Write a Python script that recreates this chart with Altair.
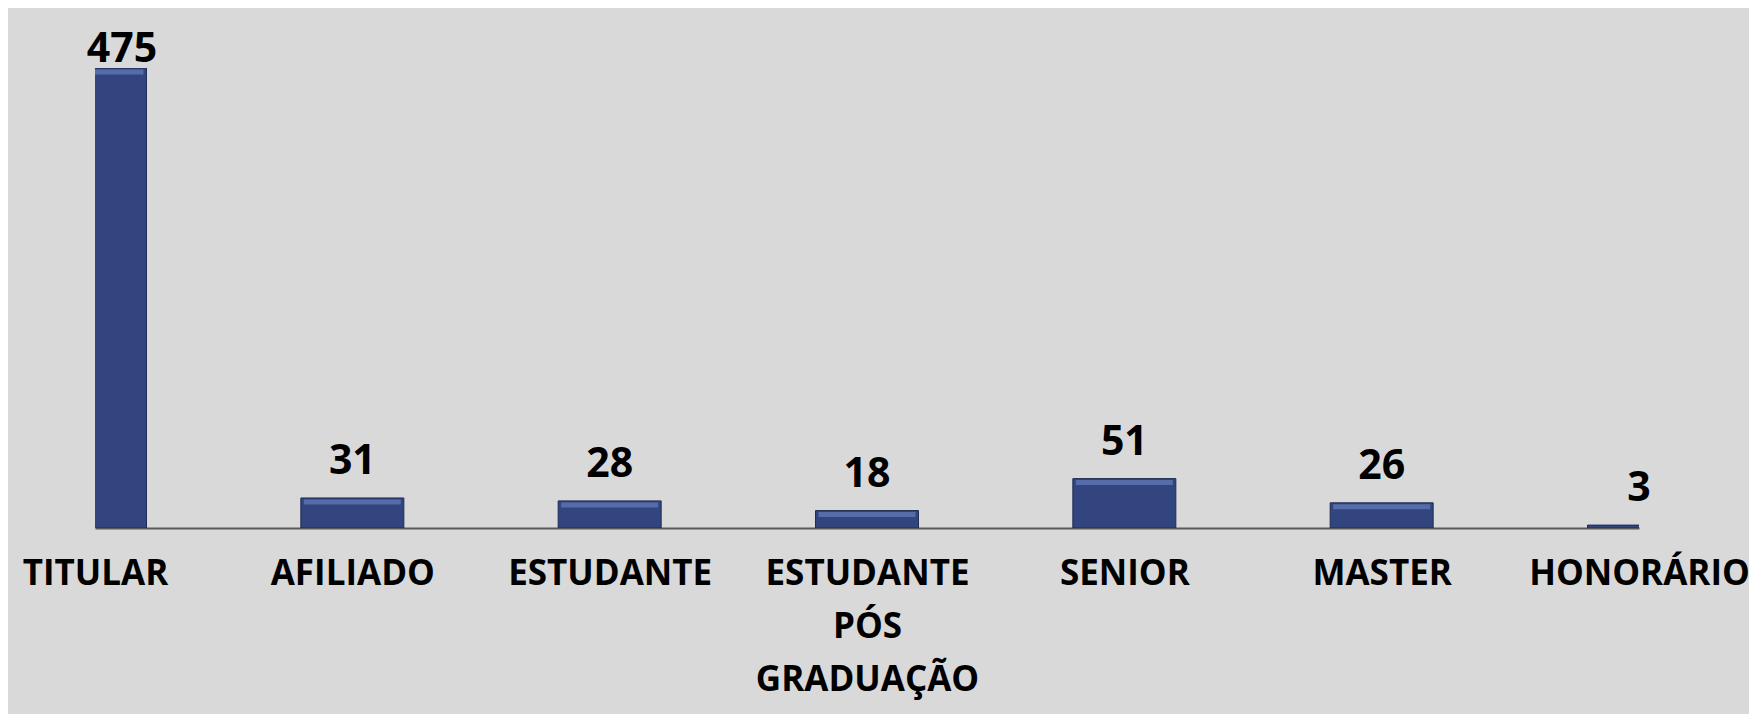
import altair as alt
import pandas as pd

categories = ["TITULAR", "AFILIADO", "ESTUDANTE", "ESTUDANTE PÓS GRADUAÇÃO",
              "SENIOR", "MASTER", "HONORÁRIO"]
values = [475, 31, 28, 18, 51, 26, 3]

df = pd.DataFrame({"categoria": categories, "total": values})

x = alt.X(
    "categoria:N",
    sort=categories,
    scale=alt.Scale(type="point", padding=0),
    axis=alt.Axis(
        title=None, labelAngle=0, ticks=False, grid=False,
        labelExpr="split(datum.label, ' ')",
        labelFont="Open Sans", labelFontWeight="bold", labelFontSize=35,
        labelColor="black", labelLineHeight=53, labelPadding=28,
        labelLimit=600,
        labelFlush=False, labelOverlap=False, labelBound=False,
        domainColor="#595959", domainWidth=2,
    ),
)
y = alt.Y("total:Q", scale=alt.Scale(domain=[0, 475], nice=False, zero=True), axis=None)

base = alt.Chart(df)

bars = base.mark_bar(size=103, color="#32457f", stroke="#1e2c55", strokeWidth=1, clip=True).encode(x=x, y=y)

bevel = base.transform_filter("datum.total >= 10").mark_tick(
    size=97, thickness=5, color="#6278b8", opacity=0.75, yOffset=4, clip=True
).encode(x=x, y=y)

text_big = base.transform_filter("datum.total > 400").mark_text(
    font="Open Sans", fontWeight="bold", fontSize=41, color="black",
    baseline="alphabetic", dx=27, dy=-6
).encode(x=x, y=y, text="total:Q")

text_small = base.transform_filter("datum.total <= 400").mark_text(
    font="Open Sans", fontWeight="bold", fontSize=41, color="black",
    baseline="alphabetic", dy=-24
).encode(x=x, y=y, text="total:Q")

chart = alt.layer(bars, bevel, text_big, text_small).properties(
    width=1544, height=460,
    padding={"left": 87, "top": 60, "right": 110, "bottom": 186},
    autosize="none",
    background="#d9d9d9",
).configure_view(stroke=None)

chart.save("out.html", embed_options={"renderer": "svg", "actions": False})
